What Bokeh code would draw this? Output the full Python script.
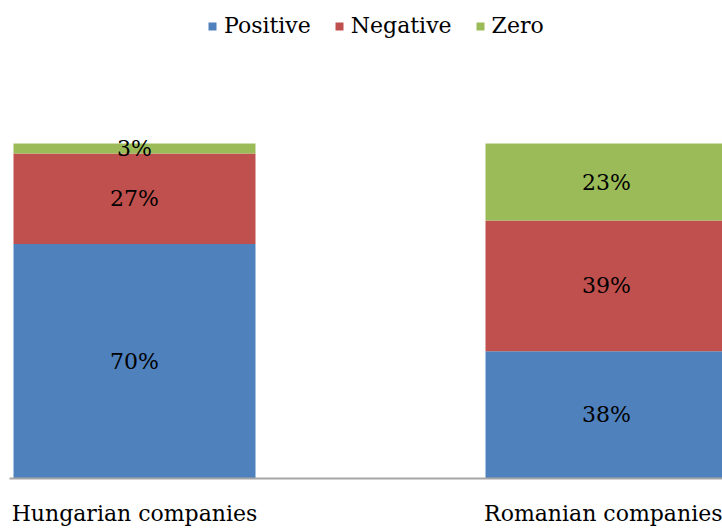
from bokeh.plotting import figure
from bokeh.models import ColumnDataSource, Range1d, FixedTicker
from bokeh.core.properties import value
from bokeh.embed import file_html
from bokeh.resources import INLINE

categories = ["Hungarian companies", "Romanian companies"]
series = ["Positive", "Negative", "Zero"]
positive = [70, 38]
negative = [27, 39]
zero = [3, 23]
colors = ["#4F81BD", "#C0504D", "#9BBB59"]

FONT = "DejaVu Serif"
FS = "22px"

xpos = list(range(len(categories)))
source = ColumnDataSource(dict(x=xpos, Positive=positive, Negative=negative, Zero=zero))

p = figure(width=722, height=530, output_backend="svg", toolbar_location=None,
           x_range=Range1d(-125 / 472, 588 / 472), y_range=Range1d(0, 142.7),
           min_border_left=9, min_border_right=0, min_border_top=0, min_border_bottom=52)

rs = p.vbar_stack(series, x="x", width=242 / 472, color=colors, line_color=None,
                  source=source, legend_label=series)

# labels
lx, ly, lt = [], [], []
for i in xpos:
    base = 0
    for vals in (positive, negative, zero):
        v = vals[i]
        lx.append(i)
        ly.append(base + v / 2)
        lt.append(f"{v}%")
        base += v
p.text(x=lx, y=ly, text=lt, text_align="center", text_baseline="middle",
       text_font=value(FONT), text_font_size=FS, text_color="#000000")

p.xgrid.visible = False
p.ygrid.visible = False
p.yaxis.visible = False
p.outline_line_color = None

xa = p.xaxis[0]
xa.ticker = FixedTicker(ticks=xpos)
xa.major_label_overrides = {i: c for i, c in zip(xpos, categories)}
xa.major_tick_line_color = None
xa.major_tick_out = 0
xa.major_tick_in = 0
xa.minor_tick_line_color = None
xa.minor_tick_out = 0
xa.axis_line_color = "#A6A6A6"
xa.axis_line_width = 2
xa.major_label_text_font = FONT
xa.major_label_text_font_size = FS
xa.major_label_text_line_height = 0.3
xa.major_label_text_color = "#000000"
xa.major_label_standoff = 22

lg = p.legend[0]
lg.orientation = "horizontal"
lg.location = (198, 440)
lg.margin = 0
lg.padding = 0
lg.spacing = 23
lg.glyph_width = 10
lg.glyph_height = 10
lg.label_standoff = 7
lg.label_text_font = FONT
lg.label_text_font_size = FS
lg.label_text_color = "#000000"
lg.background_fill_alpha = 0
lg.border_line_alpha = 0

open("out.html", "w").write(file_html(p, INLINE))
